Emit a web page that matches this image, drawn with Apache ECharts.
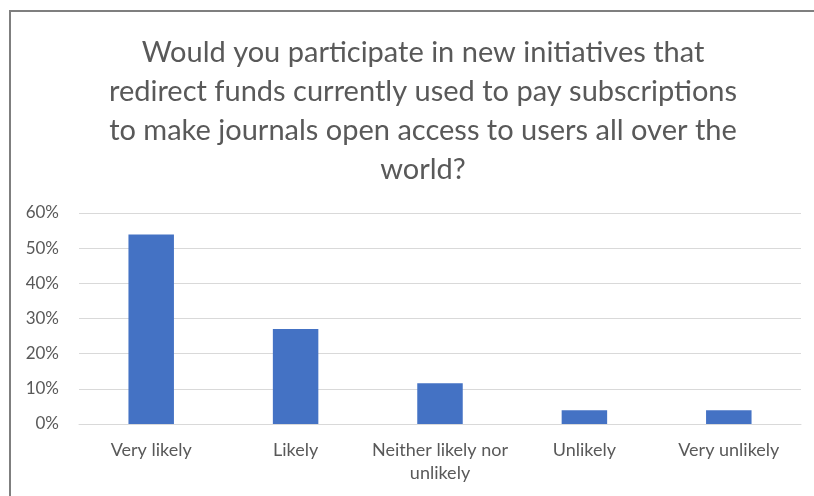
<!DOCTYPE html>
<html>
<head>
<meta charset="utf-8">
<script src="https://cdn.jsdelivr.net/npm/echarts@6/dist/echarts.min.js"></script>
<style>
html,body{margin:0;padding:0;background:#fff;}
#c{width:814px;height:496px;}
</style>
</head>
<body>
<div id="c"></div>
<script>
const titleText = "Would you participate in new initiatives that\nredirect funds currently used to pay subscriptions\nto make journals open access to users all over the\nworld?";
const categories = ["Very likely", "Likely", "Neither likely nor\nunlikely", "Unlikely", "Very unlikely"];
const values = [0.539, 0.27, 0.116, 0.039, 0.039];
const yTicks = [0, 0.1, 0.2, 0.3, 0.4, 0.5, 0.6];

const chart = echarts.init(document.getElementById('c'), null, {renderer: 'canvas'});
chart.setOption({
  animation: false,
  backgroundColor: '#ffffff',
  graphic: [{
    type: 'rect',
    shape: {x: 10, y: 11, width: 900, height: 600},
    style: {fill: 'none', stroke: '#7f7f7f', lineWidth: 2},
    silent: true
  }],
  title: {
    text: titleText,
    left: 418,
    top: 28,
    textAlign: 'center',
    textStyle: {
      fontFamily: 'Lato',
      fontSize: 29,
      fontWeight: 'normal',
      color: '#595959',
      lineHeight: 39
    }
  },
  grid: {left: 79, right: 13, top: 213, bottom: 72, containLabel: false},
  xAxis: {
    type: 'category',
    data: categories,
    axisLine: {show: true, lineStyle: {color: '#d9d9d9', width: 1}},
    axisTick: {show: false},
    axisLabel: {
      color: '#595959',
      fontFamily: 'Lato',
      fontSize: 18,
      lineHeight: 23,
      margin: 15,
      interval: 0
    }
  },
  yAxis: {
    type: 'value',
    min: yTicks[0],
    max: yTicks[yTicks.length - 1],
    interval: 0.1,
    axisLine: {show: false},
    axisTick: {show: false},
    splitLine: {lineStyle: {color: '#d9d9d9', width: 1}},
    axisLabel: {
      color: '#595959',
      fontFamily: 'Lato',
      fontSize: 17,
      margin: 20,
      formatter: v => Math.round(v * 100) + '%'
    }
  },
  series: [{
    type: 'bar',
    data: values,
    barWidth: '31.5%',
    itemStyle: {color: '#4472c4'}
  }]
});
</script>
</body>
</html>
